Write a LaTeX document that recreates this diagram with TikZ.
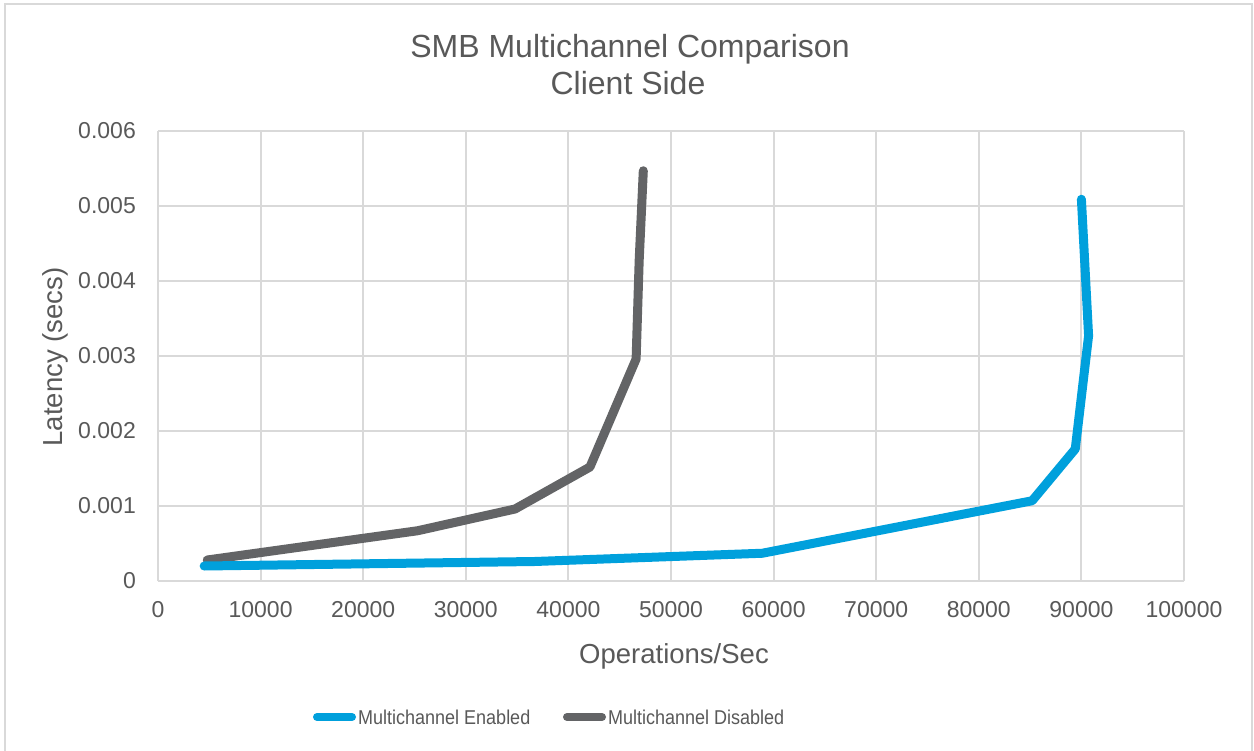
\documentclass[tikz,border=0pt]{standalone}
\usepackage{fontspec}
\setmainfont{Liberation Sans}
\definecolor{txt}{HTML}{595959}
\definecolor{gridc}{HTML}{D9D9D9}
\definecolor{blueline}{HTML}{00A0DC}
\definecolor{grayline}{HTML}{636466}
\begin{document}
\begin{tikzpicture}[x=1pt,y=-1pt,
  gridline/.style={draw=gridc, line width=2pt},
  ticklab/.style={text=txt, font=\fontsize{23}{23}\selectfont, inner sep=0pt},
  axtitle/.style={text=txt, font=\fontsize{27.5}{27.5}\selectfont, inner sep=0pt},
  charttitle/.style={text=txt, font=\fontsize{32}{32}\selectfont, inner sep=0pt},
  legtext/.style={text=txt, font=\fontsize{20}{20}\selectfont, inner sep=0pt},
  series/.style={line width=9pt, line cap=round, line join=round},
  legline/.style={line width=8pt, line cap=round}]
\useasboundingbox (0,0) rectangle (1254,751);
\fill[white] (0,0) rectangle (1254,751);
\draw[gridline] (5,751) -- (5,4) -- (1252,4) -- (1252,751);

% title
\node[charttitle, anchor=base] (title1) at (630,58) {SMB Multichannel Comparison};
\node[charttitle, anchor=base] (title2) at (628,95) {Client Side};

% plot area in data units: x = thousands of ops, y = ms
\begin{scope}[shift={(158pt,-581pt)}, x=10.26pt, y=75pt]
  \foreach \i in {0,...,10} \draw[gridline] (\i*10,0) -- (\i*10,6);
  \foreach \j in {0,...,6} \draw[gridline] (0,\j) -- (100,\j);
  \node[ticklab, anchor=east, xshift=-22pt] (yt0) at (0,0) {0};
  \foreach \j in {1,...,6}
    \node[ticklab, anchor=east, xshift=-22pt] (yt\j) at (0,\j) {0.00\j};
  \node[ticklab, anchor=center, yshift=-29pt] (xt0) at (0,0) {0};
  \foreach \i in {1,...,10}
    \node[ticklab, anchor=center, yshift=-29pt] (xt\i) at (\i*10,0) {\i0000};
  \draw[series, grayline] plot coordinates {(4.8,0.28) (25.3,0.67) (34.8,0.96) (42.1,1.52) (46.6,2.96) (46.9,4.28) (47.3,5.47)};
  \draw[series, blueline] plot coordinates {(4.5,0.20) (36.7,0.26) (58.9,0.37) (85.2,1.07) (89.4,1.76) (90.7,3.27) (90.0,5.09)};
\end{scope}

% axis titles
\node[axtitle, anchor=base] (xtitle) at (674,663) {Operations/Sec};
\node[axtitle, anchor=base, rotate=90] (ytitle) at (62,357) {Latency (secs)};

% legend
\node[legtext, anchor=base west] (legA) at (358,724) {\scalebox{0.9}[1]{Multichannel Enabled}};
\node[legtext, anchor=base west] (legB) at (608,724) {\scalebox{0.9}[1]{Multichannel Disabled}};
\coordinate (legAs) at (317,717);
\coordinate (legBs) at (567,717);
\draw[legline, blueline] (legAs) -- ([xshift=-6pt]legA.west |- legAs);
\draw[legline, grayline] (legBs) -- ([xshift=-6pt]legB.west |- legBs);
\end{tikzpicture}
\end{document}
